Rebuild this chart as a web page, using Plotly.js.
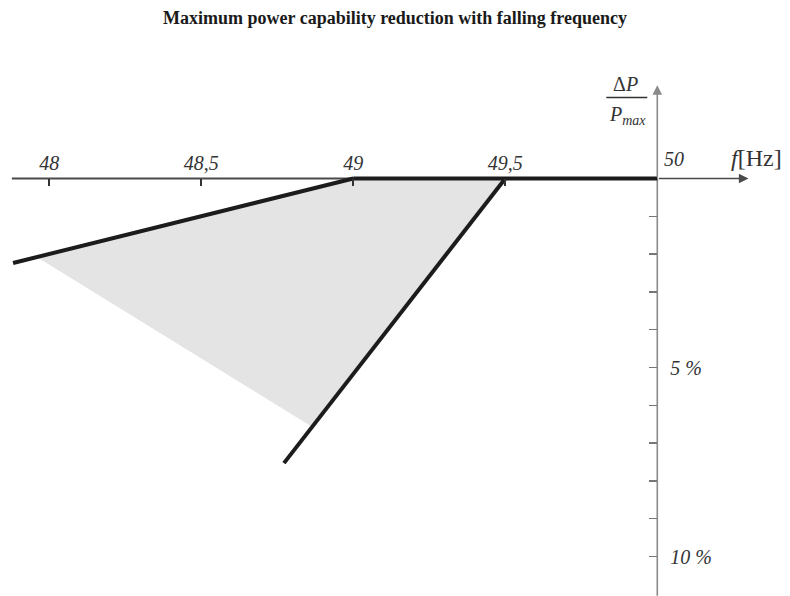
<!DOCTYPE html>
<html>
<head>
<meta charset="utf-8">
<script src="https://cdn.plot.ly/plotly-3.0.1.min.js"></script>
<style>html,body{margin:0;padding:0;background:#fff;}#chart{width:790px;height:596px;}</style>
</head>
<body>
<div id="chart"></div>
<script>
// ---- data (frequency in Hz, power reduction in % of Pmax) ----
const steepFreq = [47.881, 49.0];          // 2 %/Hz line below 49 Hz
const steepRed  = [2.235, 0];
const limitFreq = [49.5, 48.772];          // 10 %/Hz line below 49.5 Hz
const limitRed  = [0, 7.53];
const plateauFreq = [49.0, 50.0];          // no reduction between 49 and 50 Hz
const plateauRed  = [0, 0];
const areaFreq = [49.0, 49.5, 48.864, 47.963, 49.0];   // allowed area
const areaRed  = [0, 0, 6.57, 2.10, 0];
const xTickVals = [48, 48.5, 49, 49.5];
const xLabelVals = [48, 48.5, 49, 49.5];
const yTickVals = [1, 2, 3, 4, 5, 6, 7, 8, 9, 10];
const yTickText = ['', '', '', '', '5 %', '', '', '', '', '10 %'];
const xAxisStart = 47.877, xAxisEnd = 50.30;
const yAxisBottom = 11.04, yAxisTop = -2.47;

const xRange = [47.838, 50.4365];
const yRange = [11.045, -4.722];   // reversed: reduction grows downward
const yZeroPos = (0 - yRange[0]) / (yRange[1] - yRange[0]);
const x50Pos = (50 - xRange[0]) / (xRange[1] - xRange[0]);

const serif = 'Liberation Serif, Times New Roman, serif';
const dark = '#1c1c1c';

const traces = [
  {x: areaFreq, y: areaRed, mode: 'lines', fill: 'toself', fillcolor: 'rgb(228,228,228)',
   line: {width: 0}, hoverinfo: 'skip', showlegend: false},
  {x: [xAxisStart, 50], y: [0, 0], mode: 'lines', line: {color: '#4a4a4a', width: 2}, showlegend: false},
  {x: [50, 50], y: [yAxisBottom, 0], mode: 'lines', line: {color: '#8a8a8a', width: 1.6}, showlegend: false},
  {x: steepFreq, y: steepRed, mode: 'lines', line: {color: dark, width: 4}, showlegend: false},
  {x: limitFreq, y: limitRed, mode: 'lines', line: {color: dark, width: 4}, showlegend: false},
  {x: plateauFreq, y: plateauRed, mode: 'lines', line: {color: dark, width: 4}, showlegend: false},
  {x: [48], y: [0], xaxis: 'x2', mode: 'markers', marker: {opacity: 0}, hoverinfo: 'skip', showlegend: false}
];

const tickFont = {family: serif, size: 20, style: 'italic', color: '#333'};

const layout = {
  width: 790, height: 596,
  margin: {l: 0, r: 0, t: 0, b: 0},
  paper_bgcolor: '#fff', plot_bgcolor: 'rgba(0,0,0,0)',
  separators: ',.',
  title: {text: '<b>Maximum power capability reduction with falling frequency</b>',
          x: 0.5, xanchor: 'center', y: 1 - 18/596, yanchor: 'middle',
          font: {family: serif, size: 18, color: '#1a1a1a'}},
  xaxis: {range: xRange, anchor: 'free', position: yZeroPos, side: 'bottom',
          showgrid: false, zeroline: false, showline: false,
          ticks: 'outside', tickvals: xTickVals, ticklen: 7, tickwidth: 2, tickcolor: '#333',
          showticklabels: false},
  xaxis2: {range: xRange, overlaying: 'x', anchor: 'free', position: yZeroPos, side: 'top',
           showgrid: false, zeroline: false, showline: false, ticks: '',
           tickvals: xLabelVals, tickformat: '.1~f', ticklabelstandoff: 4,
           showticklabels: true, tickfont: tickFont},
  yaxis: {range: yRange, anchor: 'free', position: x50Pos, side: 'right',
          showgrid: false, zeroline: false, showline: false,
          ticks: 'inside', tickvals: yTickVals, ticktext: yTickText,
          ticklen: 8, tickwidth: 1.5, tickcolor: '#777', ticklabelstandoff: 12,
          tickfont: tickFont},
  annotations: [
    {x: xAxisEnd, y: 0, ax: 50, ay: 0, xref: 'x', yref: 'y', axref: 'x', ayref: 'y',
     text: '', showarrow: true, arrowhead: 2, arrowsize: 1.2, arrowwidth: 1.6, arrowcolor: '#4a4a4a'},
    {x: 50, y: yAxisTop, ax: 50, ay: 0, xref: 'x', yref: 'y', axref: 'x', ayref: 'y',
     text: '', showarrow: true, arrowhead: 2, arrowsize: 1.2, arrowwidth: 1.6, arrowcolor: '#8a8a8a'},
    {x: 50, y: 0, xref: 'x', yref: 'y', text: '50', showarrow: false, xanchor: 'left', yanchor: 'bottom',
     xshift: 5, yshift: 6, font: tickFont},
    {x: xAxisEnd, y: 0, xref: 'x', yref: 'y', text: '<i>f</i>[Hz]', showarrow: false, xanchor: 'center', yanchor: 'bottom',
     xshift: 8, yshift: 5, font: {family: serif, size: 24, color: '#333'}},
    {x: 50, y: 0, xref: 'x', yref: 'y', text: 'Δ<i>P</i>', showarrow: false, xanchor: 'center', yanchor: 'middle',
     xshift: -32, yshift: 94, font: {family: serif, size: 20, color: '#333'}},
    {x: 50, y: 0, xref: 'x', yref: 'y', text: '<i>P<sub>max</sub></i>', showarrow: false, xanchor: 'center', yanchor: 'middle',
     xshift: -30, yshift: 63, font: {family: serif, size: 20, color: '#333'}}
  ],
  // fraction bar of ΔP / Pmax, placed relative to the axis origin
  shapes: [{type: 'line', xref: 'x', yref: 'y', xsizemode: 'pixel', ysizemode: 'pixel',
    xanchor: 50, yanchor: 0, x0: -51, x1: -10, y0: 81, y1: 81, line: {color: '#333', width: 1.3}}]
};

Plotly.newPlot('chart', traces, layout, {staticPlot: true, displayModeBar: false});
</script>
</body>
</html>
